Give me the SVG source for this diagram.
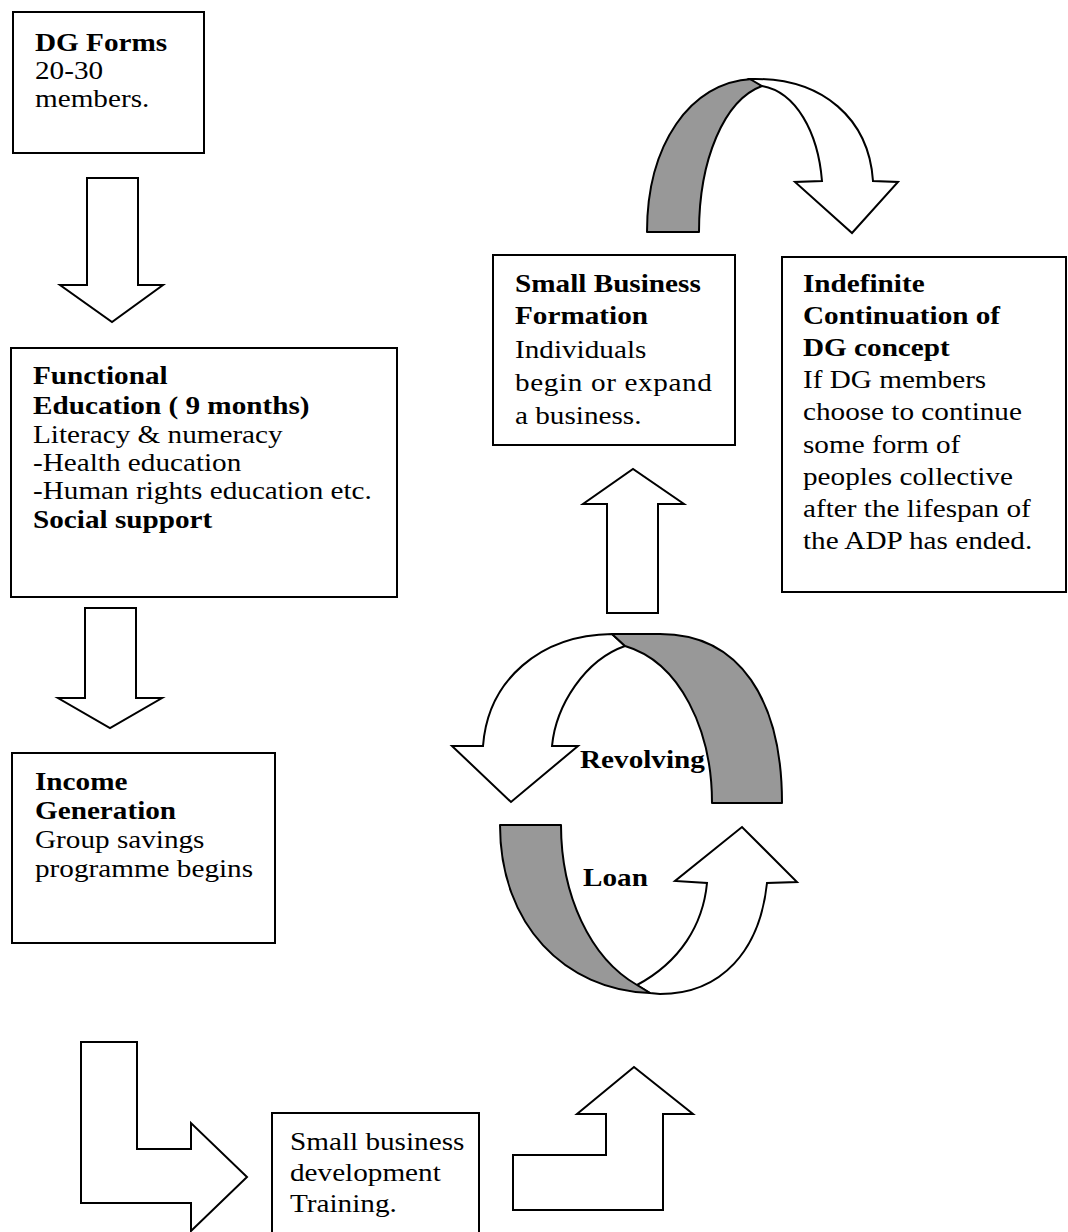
<svg xmlns="http://www.w3.org/2000/svg" width="1068" height="1232" viewBox="0 0 1068 1232">
<style>
  .box { fill: #ffffff; stroke: #000000; stroke-width: 2; }
  .arr { fill: #ffffff; stroke: #000000; stroke-width: 2; stroke-linejoin: miter; }
  .shade { fill: #989898; stroke: #000000; stroke-width: 2; stroke-linejoin: round; }
  text { font-family: "Liberation Serif", "Times New Roman", serif; font-size: 25.5px; fill: #000000; }
  .b { font-weight: bold; }
</style>
<rect x="0" y="0" width="1068" height="1232" fill="#ffffff"/>

<g id="connectors">
  <polygon id="arrow-dg-fe" class="arr" points="87,178 138,178 138,285 163,285 112,322 60,285 87,285"/>
  <polygon id="arrow-fe-ig" class="arr" points="85,608 136,608 136,698 162,698 110,728 58,698 85,698"/>
  <polygon id="arrow-ig-sbd" class="arr" points="81,1042 137,1042 137,1149 191,1149 191,1123 247,1177 191,1231 191,1203 81,1203"/>
  <polygon id="arrow-sbd-loan" class="arr" points="513,1210 513,1155 606,1155 606,1114 577,1114 634,1067 693,1114 663,1114 663,1210"/>
  <polygon id="arrow-rev-sbf" class="arr" points="607,613 607,504 583,504 633,469 684,504 658,504 658,613"/>
  <g id="arrow-sbf-idc">
    <path class="shade" d="M647,232 C647,145 690,82 752,79 L762,86 C724,100 699,160 699,232 Z"/>
    <path class="arr" d="M750,79 C824,77 869,120 873,181 L898,182 L852,233 L795,182 L822,181 C818,132 796,92 762,86 Z"/>
  </g>
  <g id="arrow-revolving">
    <path class="arr" d="M483,746 C488,680 540,635 612,634 L625,646 C585,660 556,705 552,746 L578,746 L511,802 L452,746 Z"/>
    <path class="shade" d="M782,803 C782,700 740,634 660,634 L612,634 L625,646 C680,662 712,730 712,803 Z"/>
  </g>
  <g id="arrow-loan">
    <path class="arr" d="M637,985 C680,962 703,925 707,883 L675,881 L742,827 L797,882 L767,883 C760,950 722,994 660,994 L650,993 Z"/>
    <path class="shade" d="M500,825 L561,825 C561,895 590,958 637,985 L650,993 C565,990 500,925 500,825 Z"/>
  </g>
  <g transform="translate(580,0) scale(1.145,1)"><text class="b" x="0" y="768">Revolving</text></g>
  <g transform="translate(583,0) scale(1.145,1)"><text class="b" x="0" y="886">Loan</text></g>
</g>

<g id="dg-forms">
  <rect class="box" x="13" y="12" width="191" height="141"/>
  <g transform="translate(35,0) scale(1.145,1)">
    <text x="0" y="51" class="b">DG Forms</text>
    <text x="0" y="79">20-30</text>
    <text x="0" y="107">members.</text>
  </g>
</g>

<g id="functional-education">
  <rect class="box" x="11" y="348" width="386" height="249"/>
  <g transform="translate(33,0) scale(1.145,1)">
    <text x="0" y="384" class="b">Functional</text>
    <text x="0" y="414" class="b">Education ( 9 months)</text>
    <text x="0" y="443">Literacy &amp; numeracy</text>
    <text x="0" y="471">-Health education</text>
    <text x="0" y="499">-Human rights education etc.</text>
    <text x="0" y="528" class="b">Social support</text>
  </g>
</g>

<g id="income-generation">
  <rect class="box" x="12" y="753" width="263" height="190"/>
  <g transform="translate(35,0) scale(1.145,1)">
    <text x="0" y="790" class="b">Income</text>
    <text x="0" y="819" class="b">Generation</text>
    <text x="0" y="848">Group savings</text>
    <text x="0" y="877">programme begins</text>
  </g>
</g>

<g id="small-business-training">
  <rect class="box" x="272" y="1113" width="207" height="135"/>
  <g transform="translate(290,0) scale(1.145,1)">
    <text x="0" y="1150">Small business</text>
    <text x="0" y="1181">development</text>
    <text x="0" y="1212">Training.</text>
  </g>
</g>

<g id="small-business-formation">
  <rect class="box" x="493" y="255" width="242" height="190"/>
  <g transform="translate(515,0) scale(1.145,1)">
    <text x="0" y="292" class="b">Small Business</text>
    <text x="0" y="324" class="b">Formation</text>
    <text x="0" y="358">Individuals</text>
    <text x="0" y="391" textLength="172" lengthAdjust="spacing">begin or expand</text>
    <text x="0" y="424">a business.</text>
  </g>
</g>

<g id="indefinite-continuation">
  <rect class="box" x="782" y="257" width="284" height="335"/>
  <g transform="translate(803,0) scale(1.145,1)">
    <text x="0" y="292" class="b">Indefinite</text>
    <text x="0" y="324" class="b">Continuation of</text>
    <text x="0" y="356" class="b">DG concept</text>
    <text x="0" y="388">If DG members</text>
    <text x="0" y="420">choose to continue</text>
    <text x="0" y="453">some form of</text>
    <text x="0" y="485">peoples collective</text>
    <text x="0" y="517">after the lifespan of</text>
    <text x="0" y="549">the ADP has ended.</text>
  </g>
</g>
</svg>
